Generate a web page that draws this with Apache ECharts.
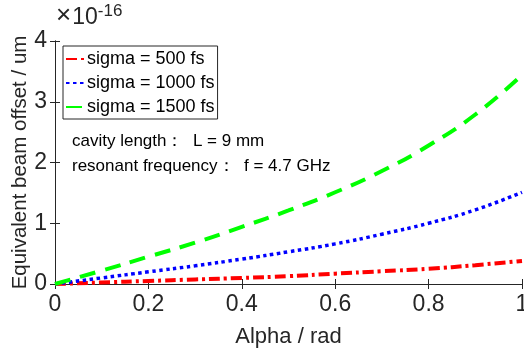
<!DOCTYPE html>
<html><head><meta charset="utf-8">
<script src="https://cdn.jsdelivr.net/npm/echarts@6/dist/echarts.min.js"></script>
<style>html,body{margin:0;padding:0;background:#fff}#c{width:524px;height:353px}</style>
</head><body><div id="c"></div>
<script>
const alpha = [0, 0.1, 0.2, 0.3, 0.4, 0.5, 0.6, 0.7, 0.8, 0.9, 1.0];
const sigma500 = [0, 0.025, 0.05, 0.075, 0.10, 0.13, 0.17, 0.21, 0.25, 0.31, 0.38];
const sigma1000 = [0, 0.10, 0.20, 0.30, 0.41, 0.53, 0.66, 0.82, 1.00, 1.22, 1.51];
const sigma1500 = [0, 0.22, 0.45, 0.68, 0.94, 1.21, 1.51, 1.86, 2.28, 2.79, 3.44];
const seriesNames = ['sigma = 500 fs', 'sigma = 1000 fs', 'sigma = 1500 fs'];
const xTicks = [0, 0.2, 0.4, 0.6, 0.8, 1];
const yTicks = [0, 1, 2, 3, 4];
const notes = ['cavity length：  L = 9 mm', 'resonant frequency：  f = 4.7 GHz'];

const font = 'Liberation Sans, Arial, sans-serif';
const axisColor = '#262626';
const pair = arr => alpha.map((a, i) => [a, arr[i]]);

const chart = echarts.init(document.getElementById('c'), null, {renderer: 'canvas'});
const grid = {left: 55, right: 2, top: 41, bottom: 69, containLabel: false, outerBoundsMode: 'none'};
const common = {
  min: 0, axisLine: {show: true, lineStyle: {color: axisColor, width: 1}},
  axisTick: {show: true, inside: true, length: 5, lineStyle: {color: axisColor}},
  splitLine: {show: false}
};
chart.setOption({
  animation: false,
  backgroundColor: '#fff',
  grid: grid,
  legend: {
    orient: 'vertical', left: 63, top: 46,
    data: seriesNames,
    itemWidth: 18, itemHeight: 14, itemGap: 6,
    padding: [4, 3, 3, 2],
    borderColor: '#262626', borderWidth: 1, backgroundColor: '#fff',
    itemStyle: {opacity: 0},
    textStyle: {fontFamily: font, fontSize: 18, color: '#000', padding: [0, 0, 0, -2]}
  },
  graphic: [
    {type: 'text', left: 56, top: 3, style: {
      text: '{x|×}{b|10}{s|-16}', fontFamily: font,
      rich: {
        x: {fontSize: 26, fontFamily: font, fill: axisColor, verticalAlign: 'bottom', padding: [0, 1, 0, 0]},
        b: {fontSize: 23, fontFamily: font, fill: axisColor, verticalAlign: 'bottom'},
        s: {fontSize: 17, fontFamily: font, fill: axisColor, verticalAlign: 'top'}
      }}},
    {type: 'text', left: 72, top: 133, style: {text: notes[0], fontFamily: font, fontSize: 17, fill: '#000'}},
    {type: 'text', left: 72, top: 158, style: {text: notes[1], fontFamily: font, fontSize: 17, fill: '#000'}}
  ],
  xAxis: [
    Object.assign({}, common, {
      type: 'value', position: 'bottom', max: 1, interval: 0.2,
      name: 'Alpha / rad', nameLocation: 'middle', nameGap: 42, nameMoveOverlap: false,
      nameTextStyle: {fontFamily: font, fontSize: 22, color: axisColor},
      axisLabel: {fontFamily: font, fontSize: 23, color: axisColor, margin: 9,
        formatter: v => xTicks.find(t => Math.abs(t - v) < 1e-9) !== undefined ? String(+v.toFixed(1)) : ''}
    }),
    Object.assign({}, common, {
      type: 'value', position: 'top', max: 1, interval: 0.2, axisLabel: {show: false}
    })
  ],
  yAxis: [
    Object.assign({}, common, {
      type: 'value', position: 'left', max: 4, interval: 1,
      name: 'Equivalent beam offset / um', nameLocation: 'middle', nameGap: 24, nameMoveOverlap: false,
      nameTextStyle: {fontFamily: font, fontSize: 20.5, color: axisColor},
      axisLabel: {fontFamily: font, fontSize: 23, color: axisColor, margin: 8,
        formatter: v => yTicks.includes(v) ? String(v) : ''}
    }),
    Object.assign({}, common, {
      type: 'value', position: 'right', max: 4, interval: 1, axisLabel: {show: false}
    })
  ],
  series: [
    {name: seriesNames[0], type: 'line', smooth: true, symbol: 'none', data: pair(sigma500),
     itemStyle: {color: '#ff0000'}, lineStyle: {color: '#ff0000', width: 4, type: [11, 4, 3, 4]}},
    {name: seriesNames[1], type: 'line', smooth: true, symbol: 'none', data: pair(sigma1000),
     itemStyle: {color: '#0000ff'}, lineStyle: {color: '#0000ff', width: 3.5, type: [3.5, 3.5]}},
    {name: seriesNames[2], type: 'line', smooth: true, symbol: 'none', data: pair(sigma1500),
     itemStyle: {color: '#00ff00'}, lineStyle: {color: '#00ff00', width: 4, type: [16, 10]}}
  ]
});
</script></body></html>
